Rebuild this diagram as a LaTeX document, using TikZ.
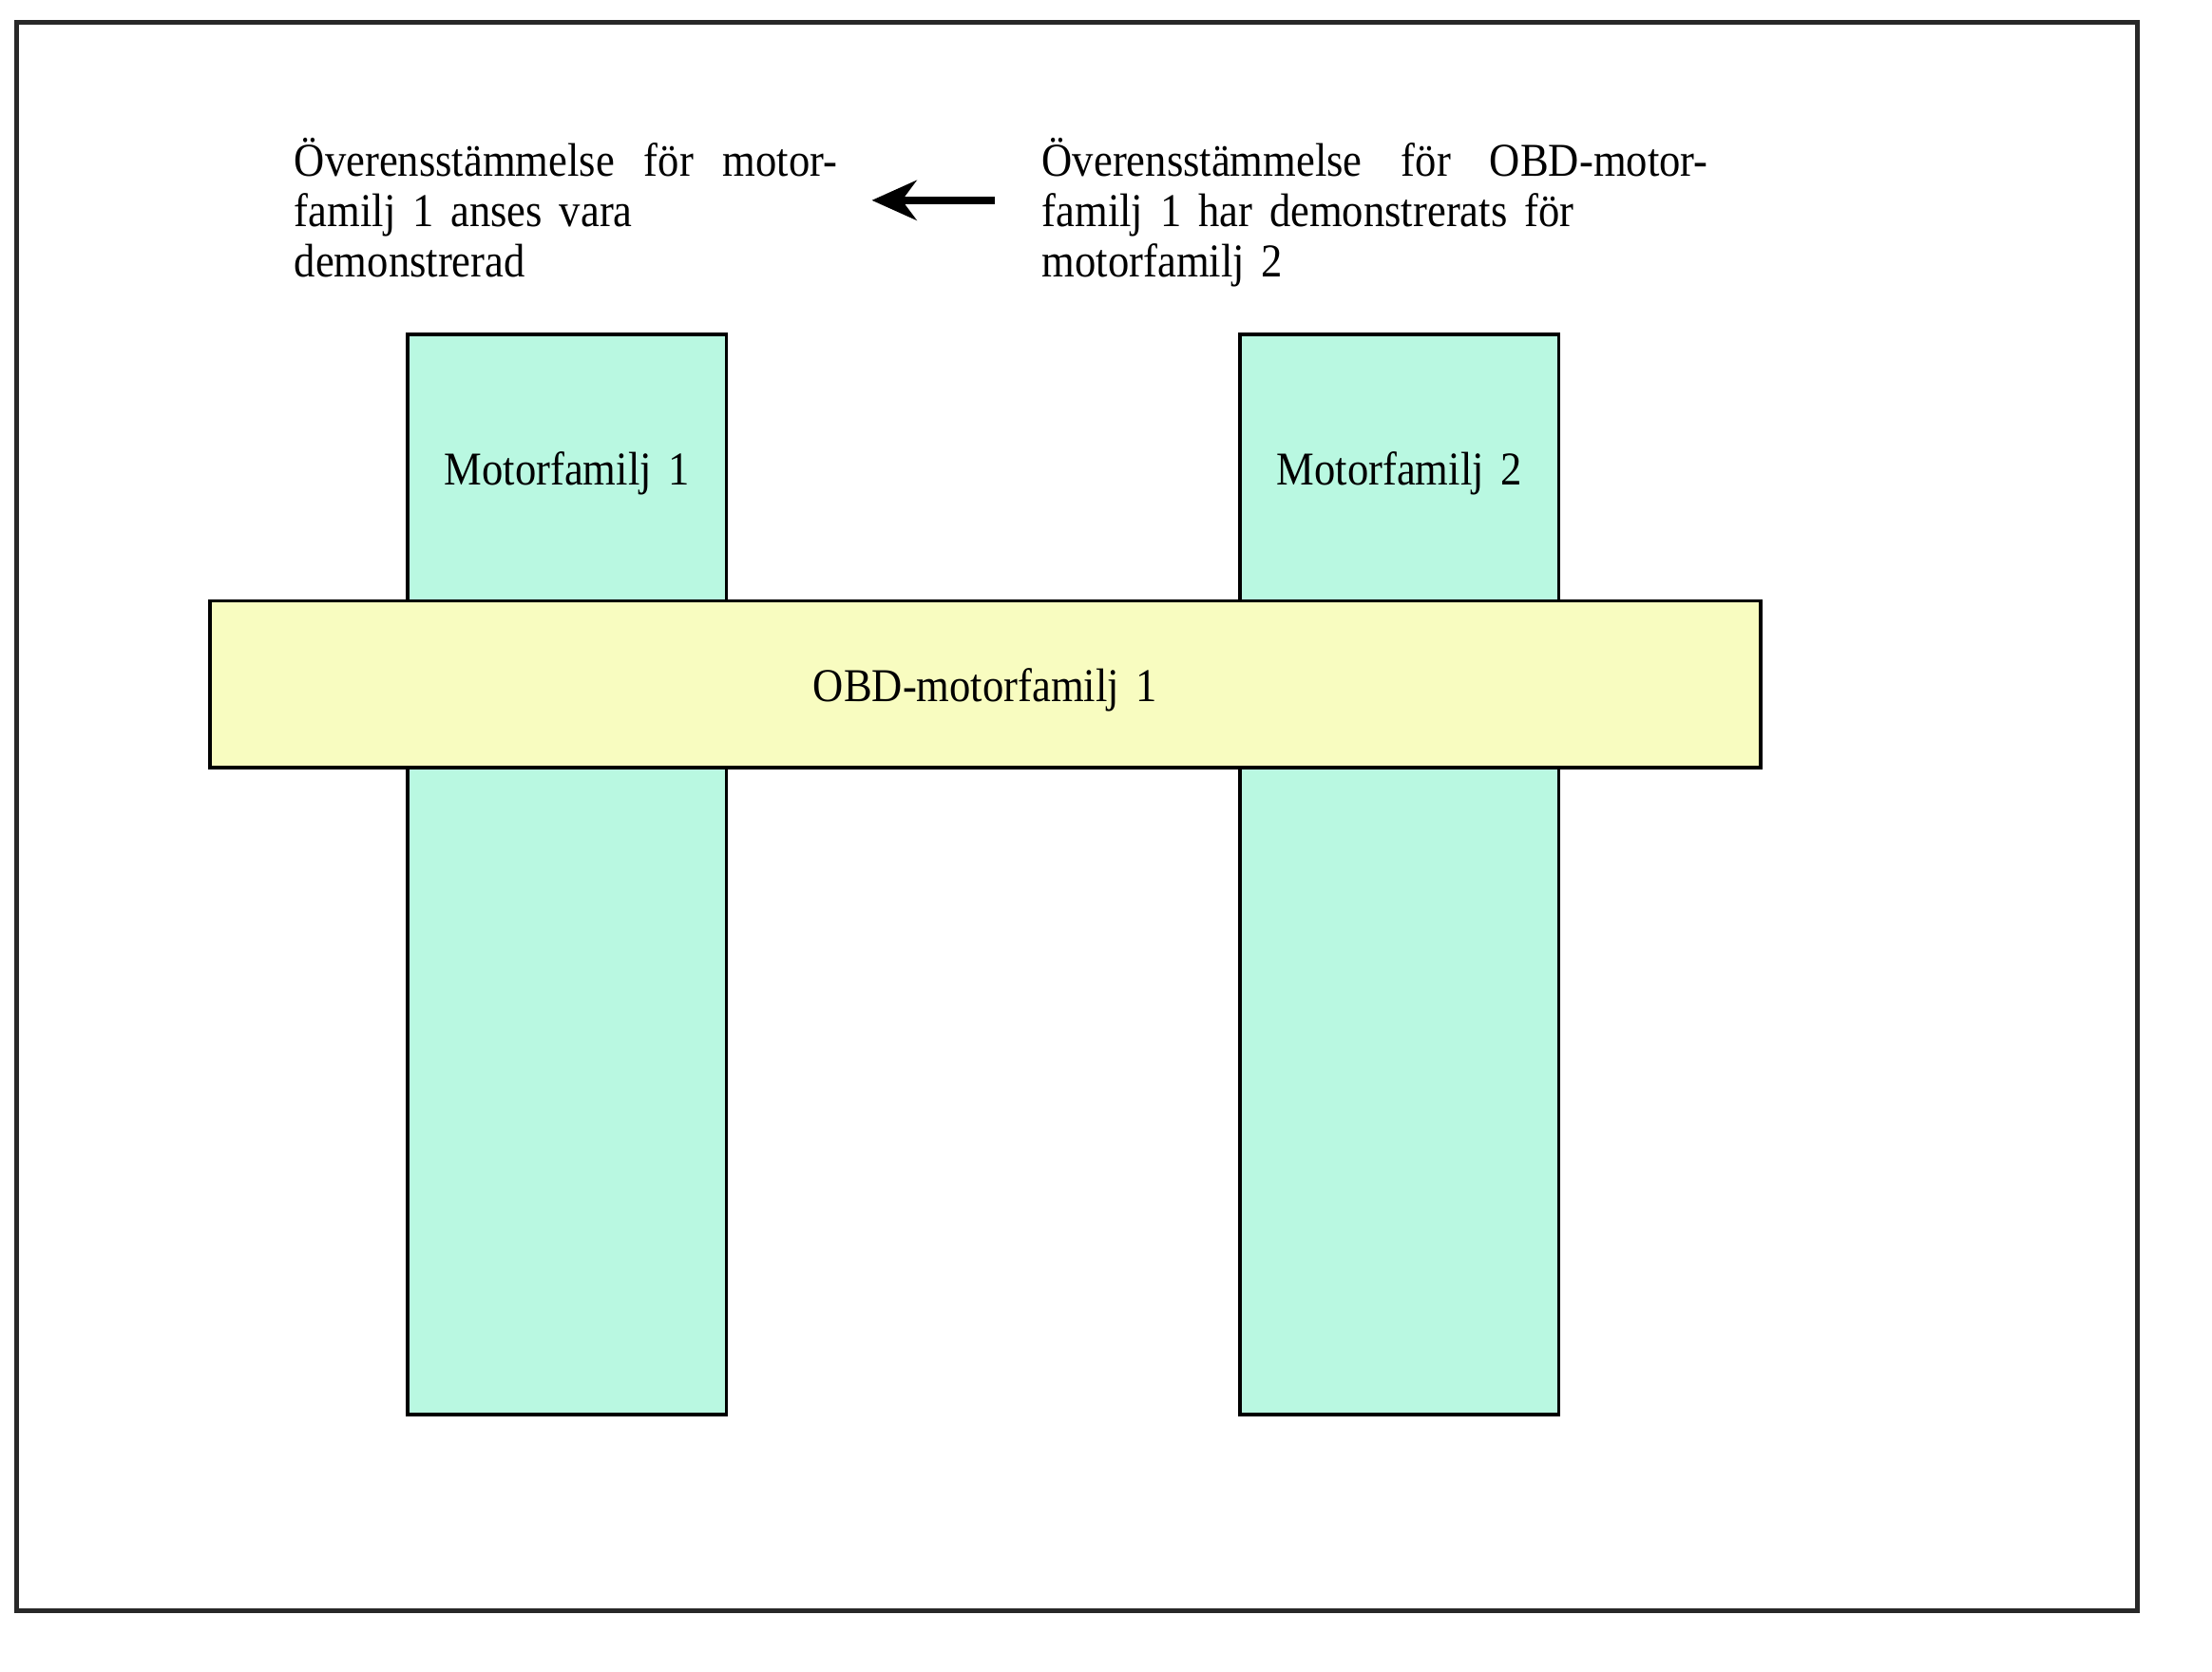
\documentclass[tikz,border=0pt]{standalone}
\usepackage{fontspec}
\setmainfont[FakeStretch=0.9,WordSpace=1.6]{Liberation Serif}
\usetikzlibrary{positioning, calc, arrows.meta}
\definecolor{famgreen}{RGB}{185,248,225}
\definecolor{obdyellow}{RGB}{248,252,192}
\definecolor{framegray}{RGB}{40,40,40}

\begin{document}
\begin{tikzpicture}[
    famcol/.style={draw=black, line width=0.7pt, fill=famgreen, minimum width=2.26cm,
                   minimum height=7.66cm, inner sep=0pt},
    obdbar/.style={draw=black, line width=0.7pt, fill=obdyellow, minimum width=10.99cm,
                   minimum height=1.18cm, inner sep=0pt, text height=9pt,
                   font=\fontsize{9.5}{10.2}\selectfont},
    note/.style={align=left, inner sep=0pt, font=\fontsize{9.5}{10.2}\selectfont},
    famlabel/.style={inner sep=0pt, font=\fontsize{9.5}{10.2}\selectfont}
]
    \useasboundingbox (0,0) rectangle (15.68,-11.85);
    % outer frame
    \draw[framegray, line width=0.9pt] (0.12,-0.16) rectangle (15.15,-11.42);

    % the two engine families
    \node[famcol] (fam1) at (4.02,-6.20) {};
    \node[famcol] (fam2) at (9.92,-6.20) {};
    \node[famlabel] (fam1txt) at ([yshift=-1.0cm]fam1.north) {Motorfamilj 1};
    \node[famlabel] (fam2txt) at ([yshift=-1.0cm]fam2.north) {Motorfamilj 2};

    % OBD family across both
    \node[obdbar] (obd) at (6.985,-4.85) {OBD-motorfamilj 1};

    % statements above
    \node[note, anchor=north west] (lefttxt) at (2.08,-0.97)
        {\makebox[3.85cm][s]{Överensstämmelse för motor-}\\familj 1 anses vara\\demonstrerad};
    \node[note, anchor=north west] (righttxt) at (7.38,-0.97)
        {\makebox[4.72cm][s]{Överensstämmelse för OBD-motor-}\\familj 1 har demonstrerats för\\motorfamilj 2};
    \coordinate (arrfrom) at (7.05,-1.42);
    \coordinate (arrto) at (6.18,-1.42);
    \draw[-{Stealth[length=9pt,width=8pt]}, line width=1.5pt] (arrfrom) -- (arrto);
\end{tikzpicture}
\end{document}
